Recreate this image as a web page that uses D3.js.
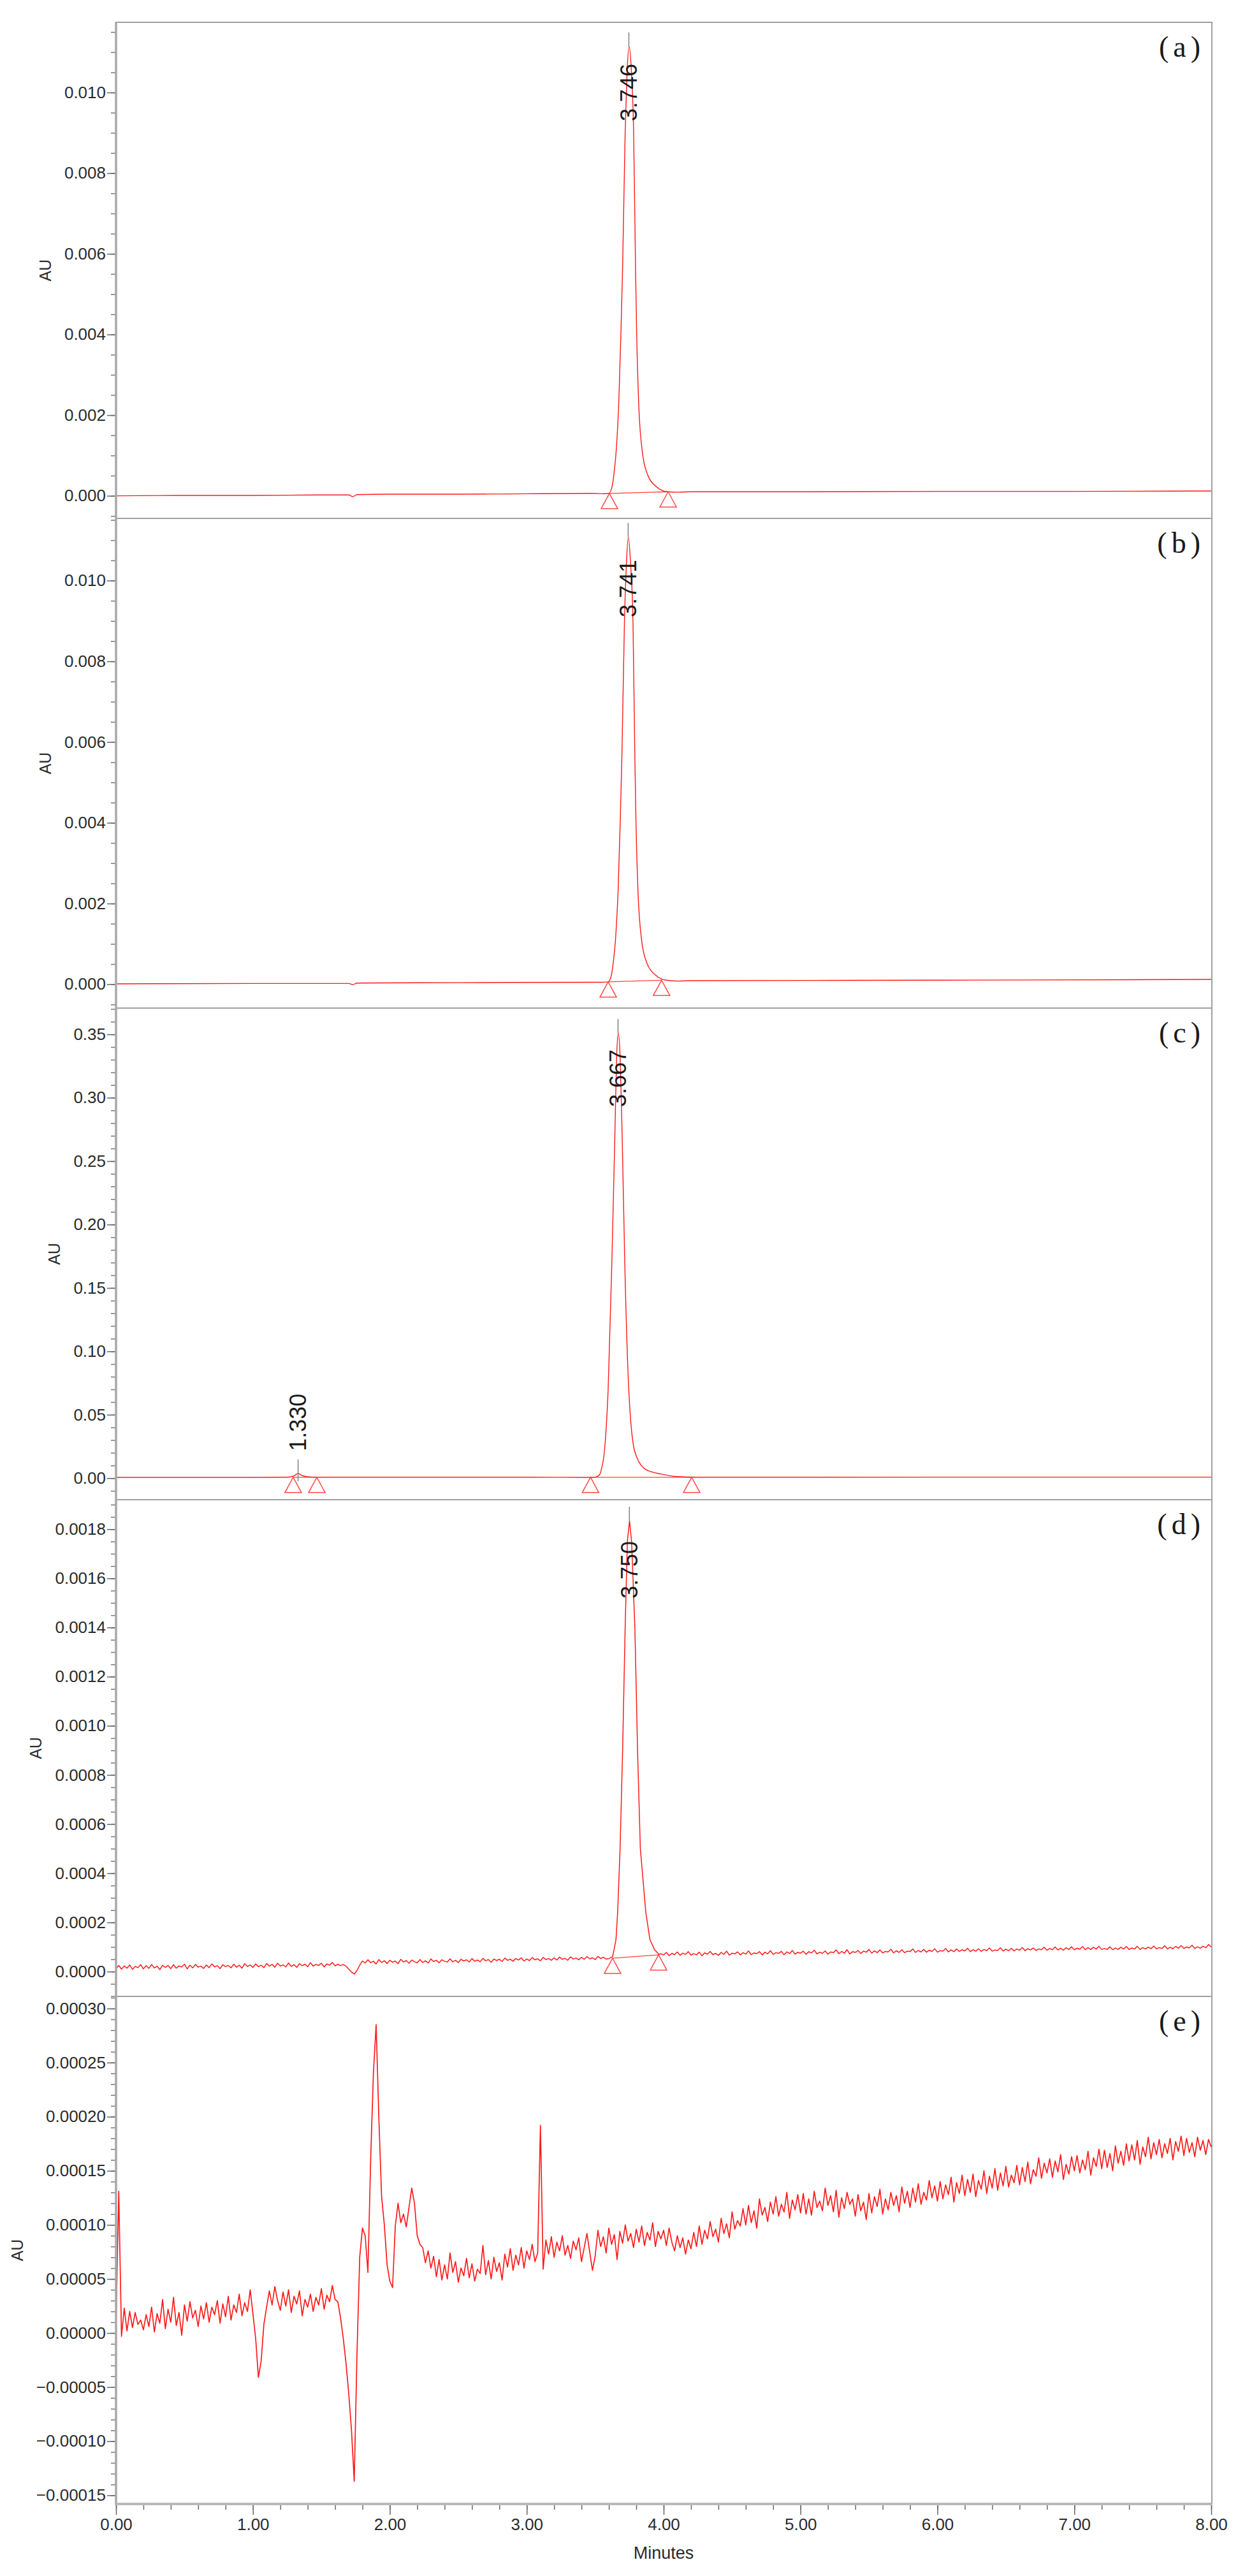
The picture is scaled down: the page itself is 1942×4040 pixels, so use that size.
<!DOCTYPE html>
<html>
<head>
<meta charset="utf-8">
<script src="https://cdn.jsdelivr.net/npm/d3@7"></script>
<style>
  body { margin: 0; background: #fff; }
  svg { display: block; background: #fff; }
  text { font-family: "Liberation Sans", Arial, sans-serif; }
</style>
</head>
<body>
<svg id="chart" width="1942" height="4040"></svg>
<script>
// ---- x axis (minutes)
const xTicks = [0, 1, 2, 3, 4, 5, 6, 7, 8];
const xMinorStep = 0.2;

// ---- y tick labels per panel
const abTicks = [0, 0.002, 0.004, 0.006, 0.008, 0.010];
const cTicks = [0, 0.05, 0.10, 0.15, 0.20, 0.25, 0.30, 0.35];
const dTicks = [0, 0.0002, 0.0004, 0.0006, 0.0008, 0.0010, 0.0012, 0.0014, 0.0016, 0.0018];
const eTicks = [-0.00015, -0.00010, -0.00005, 0, 0.00005, 0.00010, 0.00015, 0.00020, 0.00025, 0.00030];

// ---- (a): [minutes, AU]
const aBase = [[0, 0.00000], [0.5, 0.00001], [1.0, 0.00001], [1.5, 0.00002], [1.70, 0.00002], [1.73, -0.00002],
  [1.76, 0.00003], [2.0, 0.00004], [2.5, 0.00004], [3.0, 0.00005], [3.5, 0.00006], [4.2, 0.00010],
  [5.0, 0.00010], [6.0, 0.00011], [7.0, 0.00011], [8.0, 0.00012]];
const aPeak = [[3.55, 0.00005], [3.60, 0.00006], [3.623, 0.00022], [3.638, 0.00056], [3.654, 0.00113],
  [3.673, 0.00237], [3.688, 0.00403], [3.700, 0.0056], [3.719, 0.0090], [3.733, 0.0105], [3.748, 0.01114],
  [3.765, 0.0105], [3.781, 0.0090], [3.795, 0.0056], [3.803, 0.00403], [3.817, 0.00237], [3.843, 0.00113],
  [3.879, 0.00056], [3.949, 0.00022], [4.03, 0.00010], [4.10, 0.00009]];
const aMarks = [[3.604, 0.00006], [4.033, 0.00010]];
const aPeaks = [{rt: 3.746, v: 0.01114, label: '3.746', top: true}];

// ---- (b)
const bBase = [[0, 0.00001], [1.0, 0.00002], [1.70, 0.00002], [1.73, -0.00001], [1.76, 0.00003], [2.5, 0.00004],
  [3.5, 0.00005], [4.2, 0.00009], [6.0, 0.00010], [8.0, 0.00012]];
const bPeak = [[3.55, 0.00005], [3.595, 0.00006], [3.618, 0.00022], [3.633, 0.00056], [3.649, 0.00113],
  [3.668, 0.00237], [3.683, 0.00403], [3.695, 0.0056], [3.714, 0.0090], [3.728, 0.0104], [3.742, 0.01108],
  [3.759, 0.0104], [3.776, 0.0090], [3.790, 0.0056], [3.798, 0.00403], [3.812, 0.00237], [3.838, 0.00113],
  [3.874, 0.00056], [3.944, 0.00022], [4.02, 0.00010], [4.10, 0.00008]];
const bMarks = [[3.595, 0.00006], [3.985, 0.00010]];
const bPeaks = [{rt: 3.741, v: 0.01108, label: '3.741', top: true}];

// ---- (c)
const cBase = [[0, 0.0006], [1.0, 0.0006], [2.0, 0.0007], [3.0, 0.0007], [4.3, 0.0007], [6.0, 0.0008], [8.0, 0.0008]];
const cSmall = [[1.25, 0.0007], [1.30, 0.0018], [1.33, 0.0037], [1.36, 0.0020], [1.42, 0.0009], [1.50, 0.0007]];
const cPeak = [[3.45, 0.0006], [3.50, 0.0008], [3.534, 0.0030], [3.545, 0.0069], [3.567, 0.0207], [3.595, 0.0708],
  [3.622, 0.1709], [3.644, 0.2705], [3.657, 0.333], [3.669, 0.351], [3.682, 0.333], [3.697, 0.2705],
  [3.716, 0.1709], [3.745, 0.0708], [3.790, 0.0207], [3.868, 0.0069], [3.979, 0.0033], [4.10, 0.0012], [4.25, 0.0007]];
const cMarks = [[1.294, 0.0007], [1.467, 0.0007], [3.466, 0.0007], [4.205, 0.0007]];
const cPeaks = [{rt: 1.330, v: 0.0037, label: '1.330', top: false}, {rt: 3.667, v: 0.351, label: '3.667', top: true}];

// ---- (d) sampled every 0.02 min, values in 1e-5 AU
const dStep = 0.02;
const dValues = [
  1.2, 2.5, 1.0, 2.3, 1.4, 2.7, 0.9, 2.1, 1.6, 2.8, 1.1,
  2.4, 1.3, 2.9, 1.5, 2.2, 0.8, 2.6, 1.7, 2.5, 1.2,
  2.8, 1.4, 2.3, 1.9, 3.0, 1.1, 2.6, 1.5, 2.9, 1.8,
  2.2, 1.3, 2.7, 1.6, 3.1, 1.9, 2.4, 1.2, 2.8, 2.0,
  2.5, 1.5, 3.0, 1.8, 2.6, 1.4, 3.2, 2.1, 2.7, 1.7,
  3.1, 2.0, 2.6, 1.6, 3.3, 2.2, 2.9, 1.8, 3.4, 2.3,
  2.7, 1.9, 3.5, 2.1, 2.8, 1.7, 3.2, 2.4, 3.0, 2.0,
  3.6, 2.2, 2.9, 2.5, 3.4, 1.9, 3.1, 2.6, 3.7, 2.3,
  3.0, 2.4, 2.9, 2.2, 1.0, -0.2, -1.0, 0.4, 2.6, 4.3,
  3.5, 4.8, 3.6, 4.2, 3.1, 4.9, 3.7, 4.4, 3.3, 4.6,
  3.8, 4.3, 3.2, 5.0, 3.9, 4.5, 3.4, 4.7, 4.0, 3.6,
  4.9, 3.7, 4.4, 3.5, 5.1, 4.1, 4.6, 3.6, 4.8, 4.2,
  3.9, 5.2, 4.0, 4.6, 3.7, 5.0, 4.3, 4.8, 3.9, 5.3,
  4.2, 4.7, 4.0, 5.4, 4.4, 4.9, 3.8, 5.1, 4.5, 5.0,
  4.1, 5.5, 4.6, 5.0, 4.2, 5.3, 4.7, 5.6, 4.3, 5.1,
  4.5, 5.7, 4.8, 5.2, 4.4, 5.8, 4.9, 5.3, 4.6, 5.6,
  4.7, 5.9, 5.0, 5.4, 4.6, 6.0, 5.1, 5.5, 4.8, 5.8,
  5.0, 6.1, 5.2, 5.6, 4.9, 6.2, 5.3, 5.8, 5.1, 5.5,
  5.4, 5.6, 5.5, 5.7, 5.8, 5.9, 6.0, 6.1, 6.2, 6.3,
  6.4, 6.5, 6.6, 6.7, 6.8, 6.9, 7.0, 7.1, 7.9, 6.8,
  7.8, 6.5, 7.4, 6.9, 8.0, 6.6, 7.5, 7.0, 8.1, 6.7,
  7.3, 6.8, 7.9, 6.4, 7.6, 7.1, 8.2, 6.9, 7.4, 6.6,
  7.8, 7.0, 8.3, 6.7, 7.5, 7.2, 8.0, 6.8, 7.7, 7.1,
  8.4, 6.9, 7.6, 7.3, 8.1, 6.8, 7.9, 7.2, 8.5, 7.0,
  7.7, 7.4, 8.2, 6.9, 8.0, 7.3, 8.6, 7.1, 7.8, 7.5,
  8.3, 7.0, 8.1, 7.6, 8.7, 7.2, 7.9, 7.4, 8.4, 7.1,
  8.0, 7.7, 8.8, 7.3, 8.2, 7.5, 8.9, 7.2, 8.1, 7.8,
  8.6, 7.4, 8.3, 7.9, 9.0, 7.5, 8.4, 7.7, 8.8, 7.6,
  8.2, 8.0, 9.1, 7.6, 8.5, 7.8, 8.9, 7.7, 8.3, 8.1,
  9.2, 7.8, 8.6, 8.0, 9.0, 7.9, 8.7, 8.2, 9.3, 7.9,
  8.5, 8.3, 9.4, 8.0, 8.8, 8.1, 9.2, 8.2, 8.9, 8.4,
  9.5, 8.1, 8.9, 8.3, 9.3, 8.2, 9.0, 8.5, 9.6, 8.3,
  8.8, 8.6, 9.7, 8.4, 9.1, 8.5, 9.5, 8.4, 9.2, 8.7,
  9.8, 8.5, 9.3, 8.8, 9.6, 8.6, 9.2, 8.9, 9.9, 8.7,
  9.4, 8.9, 10.0, 8.8, 9.5, 8.7, 9.7, 9.0, 10.1, 8.9,
  9.5, 9.1, 10.2, 8.9, 9.7, 9.0, 9.9, 9.2, 10.3, 9.0,
  9.4, 9.0, 10.1, 8.9, 9.6, 9.0, 9.9, 9.2, 10.2, 9.0,
  9.6, 9.2, 10.3, 9.0, 9.8, 9.2, 10.0, 9.3, 10.4, 9.2,
  9.8, 9.4, 10.5, 9.2, 9.9, 9.3, 10.2, 9.5, 10.6, 9.4,
  10.0, 9.6, 10.7, 9.4, 10.1, 9.5, 10.3, 9.7, 11.0, 10.0
];
const dPeak = [[3.60, 0.000053], [3.627, 0.000060], [3.640, 0.000095], [3.652, 0.000130], [3.664, 0.00024],
  [3.682, 0.00050], [3.700, 0.00089], [3.719, 0.00140], [3.735, 0.00175], [3.751, 0.001834], [3.766, 0.00175],
  [3.790, 0.00140], [3.810, 0.00089], [3.830, 0.00050], [3.870, 0.00024], [3.900, 0.00013], [3.933, 0.00009],
  [3.965, 0.000070], [3.98, 0.000072]];
const dMarks = [[3.627, 0.0000545], [3.963, 0.000068]];
const dPeaks = [{rt: 3.750, v: 0.001834, label: '3.750', top: true}];

// ---- (e) sampled every 0.02 min, values in 1e-5 AU
const eStep = 0.02;
const eValues = [
  1.0, 13.1, -0.3, 2.3, 0.2, 2.0, 0.5, 1.9, 0.8, 1.2, 0.3,
  1.7, 0.6, 2.4, 0.1, 1.8, 0.9, 3.1, 0.4, 2.2, 1.0,
  3.3, 0.7, 1.9, -0.2, 2.6, 1.1, 2.9, 1.4, 2.1, 0.6,
  2.5, 1.3, 2.8, 1.0, 2.4, 1.7, 3.0, 0.9, 2.7, 1.5,
  3.4, 1.2, 2.6, 1.9, 3.6, 1.6, 2.8, 2.0, 4.0, 1.8,
  -0.5, -4.1, -2.6, 0.8, 2.4, 3.9, 2.6, 4.3, 3.0, 2.1,
  3.8, 2.5, 4.0, 1.9, 3.4, 2.7, 3.9, 1.6, 3.1, 2.4,
  3.6, 2.0, 3.3, 2.6, 4.1, 2.2, 3.5, 2.9, 4.4, 3.1,
  2.9,
  1.4, -0.5, -2.8, -5.6, -9.0, -13.7, -2.0, 7.0, 9.7, 9.0,
  5.6, 16.0, 24.0, 28.5, 19.8, 12.6, 10.0, 6.3, 4.8, 4.2,
  9.9, 12.0, 10.2, 11.0, 9.8, 11.6, 13.4, 12.0, 9.0, 8.2,
  7.9, 6.5, 7.6, 6.0,
  7.1, 5.2, 6.8, 4.9, 6.3, 5.0, 7.4, 5.6, 6.6, 4.7,
  6.0, 5.3, 6.9, 5.1, 6.4, 4.8, 5.9, 5.5, 8.1, 5.4,
  6.7, 5.0, 7.0, 5.7, 6.5, 4.9, 7.3, 6.1, 7.8, 5.8,
  7.2, 6.3, 7.9, 6.0, 7.6, 6.8, 8.2, 6.6, 7.4,
  19.2, 5.9,
  8.6, 7.3, 8.9, 7.0, 8.4, 7.6, 9.0, 7.2, 8.1, 6.9,
  8.5, 7.7, 8.8, 6.6, 7.9, 9.2, 7.5, 5.8, 7.1, 9.5,
  8.0, 8.9, 7.4, 9.7, 8.2, 9.1, 6.8, 9.4, 8.3, 10.0,
  8.5, 9.2, 7.9, 9.6, 8.4, 9.9, 8.1, 9.3, 8.6, 10.2,
  8.0, 9.4, 8.7, 9.5,
  8.1, 9.7, 8.4, 7.6, 9.0, 7.9, 8.8, 7.3, 8.6, 7.8,
  9.3, 8.0, 9.9, 8.2, 9.5, 8.7, 10.3, 8.9, 9.6, 8.4,
  10.6, 9.2, 10.1, 8.8, 11.2, 9.6, 10.4, 9.9, 11.5, 10.0,
  11.8, 10.2, 11.3, 9.7, 12.4, 10.9, 11.6, 10.3, 12.1, 11.0,
  12.6, 10.8, 11.9, 11.2, 13.0, 10.6, 12.3, 11.4, 12.8, 11.1,
  12.9, 11.0, 12.4, 10.9, 13.1, 11.6, 12.2, 11.3, 13.4, 11.8,
  12.7, 11.2, 13.2, 10.7, 12.5, 11.5, 13.0, 11.9, 12.4, 10.8,
  12.8, 11.3, 12.1, 10.5, 12.9, 11.1, 12.6, 11.7, 13.3, 11.0,
  12.4, 11.4, 13.0, 11.8, 12.7, 11.2, 13.5, 12.0, 13.1, 11.6,
  13.4, 12.1, 13.8, 11.9, 13.0, 12.3, 14.1, 12.5, 13.6, 12.2,
  14.0, 12.4, 13.7, 12.8, 14.4, 12.1, 13.9, 12.9, 14.6, 12.7,
  14.2, 13.0, 14.7, 12.6, 14.1, 13.3, 15.0, 12.9, 14.5, 13.4,
  15.2, 13.2, 14.8, 13.6, 15.4, 13.5, 14.6, 13.9, 15.5, 13.7,
  15.3, 14.0, 15.8, 13.8, 15.1, 14.5, 16.2, 14.3, 15.7, 14.8,
  16.1, 14.4, 15.9, 14.9, 16.5, 14.2, 15.6, 14.7, 16.3, 15.0,
  16.4, 14.8, 16.0, 15.1, 16.8, 14.6, 16.2, 15.4, 17.0, 15.2,
  16.9, 15.3, 16.6, 15.0, 17.3, 15.7, 16.8, 15.5, 17.5, 15.9,
  17.4, 16.0, 17.8, 15.6, 17.2, 16.3, 18.1, 16.1, 17.6, 16.5,
  17.9, 16.2, 17.5, 16.6, 18.0, 16.0, 17.7, 16.8, 18.2, 16.4,
  18.0, 16.7, 17.6, 16.3, 18.1, 16.9, 17.8, 16.5, 17.9, 17.2
];

console.log('d count', dValues.length, 'e count', eValues.length);

function sampled(values, step) {
  return values.map((v, i) => [i * step, v * 1e-5]);
}
function merge(base, peak) {
  const t0 = peak[0][0], t1 = peak[peak.length - 1][0];
  return base.filter(p => p[0] < t0 || p[0] > t1).concat(peak).sort((p, q) => p[0] - q[0]);
}

const svg = d3.select('#chart');
const X0 = 182, X1 = 1900, XR = 1901, XBOT = 3927;
const x = d3.scaleLinear().domain([0, 8]).range([X0, X1]);

const panels = [
  {letter: '(a)', top: 35, bottom: 813, domain: [-0.00056, 0.01174], ticks: abTicks, minor: 0.0005, fmt: '.3f',
    data: merge(aBase, aPeak), marks: aMarks, peaks: aPeaks, curve: d3.curveMonotoneX, width: 1.4},
  {letter: '(b)', top: 813, bottom: 1581, domain: [-0.00059, 0.01154], ticks: abTicks, minor: 0.0005, fmt: '.3f',
    data: merge(bBase, bPeak), marks: bMarks, peaks: bPeaks, curve: d3.curveMonotoneX, width: 1.4},
  {letter: '(c)', top: 1581, bottom: 2352, domain: [-0.017, 0.3707], ticks: cTicks, minor: 0.01, fmt: '.2f',
    data: merge(merge(cBase, cSmall), cPeak), marks: cMarks, peaks: cPeaks, curve: d3.curveMonotoneX, width: 1.4},
  {letter: '(d)', top: 2352, bottom: 3131, domain: [-0.000101, 0.00192], ticks: dTicks, minor: 0.00005, fmt: '.4f',
    data: merge(sampled(dValues, dStep), dPeak), marks: dMarks, peaks: dPeaks, curve: d3.curveLinear, width: 1.5},
  {letter: '(e)', top: 3131, bottom: XBOT, domain: [-0.000158, 0.0003112], ticks: eTicks, minor: 0.00001, fmt: '.5f',
    data: sampled(eValues, eStep), marks: [], peaks: [], curve: d3.curveLinear, width: 1.7}
];

panels.forEach((p, i) => {
  const y = d3.scaleLinear().domain(p.domain).range([p.bottom, p.top]);
  const g = svg.append('g');

  // frame
  g.append('rect')
    .attr('x', X0).attr('y', p.top)
    .attr('width', XR - X0).attr('height', p.bottom - p.top)
    .attr('fill', 'none').attr('stroke', '#a0a0a0').attr('stroke-width', 2);

  // clip for the trace
  svg.append('clipPath').attr('id', 'clip' + i)
    .append('rect').attr('x', X0).attr('y', p.top).attr('width', XR - X0).attr('height', p.bottom - p.top);

  // minor ticks
  const k0 = Math.ceil(p.domain[0] / p.minor - 1e-6), k1 = Math.floor(p.domain[1] / p.minor + 1e-6);
  const minorVals = d3.range(k0, k1 + 1).map(k => k * p.minor);
  const minorAxis = g.append('g')
    .attr('transform', 'translate(' + X0 + ',0)')
    .call(d3.axisLeft(y).tickValues(minorVals).tickSize(8).tickFormat(''));
  minorAxis.select('.domain').remove();
  minorAxis.selectAll('line').attr('stroke', '#777').attr('stroke-width', 1.5);

  // major ticks
  const axis = g.append('g')
    .attr('transform', 'translate(' + X0 + ',0)')
    .call(d3.axisLeft(y).tickValues(p.ticks).tickSize(14).tickPadding(2).tickFormat(d3.format(p.fmt)));
  axis.select('.domain').remove();
  axis.selectAll('line').attr('stroke', '#666').attr('stroke-width', 1.5);
  axis.selectAll('text')
    .style('font-family', '"Liberation Sans", Arial, sans-serif')
    .style('font-size', '26px')
    .attr('fill', '#2b2b2b');

  // AU label, left of the tick labels
  const bb = axis.node().getBBox();
  g.append('text')
    .attr('transform', 'translate(' + (X0 + bb.x - 30) + ',' + ((p.top + p.bottom) / 2) + ')rotate(-90)')
    .attr('text-anchor', 'middle')
    .attr('dy', '0.35em')
    .style('font-size', '25px')
    .attr('fill', '#2b2b2b')
    .text('AU');

  // integration baselines between marks
  for (let m = 0; m + 1 < p.marks.length; m += 2) {
    g.append('line')
      .attr('x1', x(p.marks[m][0])).attr('y1', y(p.marks[m][1]))
      .attr('x2', x(p.marks[m + 1][0])).attr('y2', y(p.marks[m + 1][1]))
      .attr('stroke', '#ff4040').attr('stroke-width', 1.3);
  }

  // trace
  const line = d3.line().x(d => x(d[0])).y(d => y(d[1])).curve(p.curve);
  g.append('path')
    .datum(p.data)
    .attr('clip-path', 'url(#clip' + i + ')')
    .attr('d', line)
    .attr('fill', 'none')
    .attr('stroke', '#ff1a1a')
    .attr('stroke-width', p.width)
    .attr('stroke-linejoin', 'round');

  // start / end markers
  g.selectAll('.mark')
    .data(p.marks)
    .enter()
    .append('path')
    .attr('d', d => 'M' + x(d[0]) + ',' + y(d[1]) + 'l-13,24h26z')
    .attr('fill', 'none')
    .attr('stroke', '#ff4a4a')
    .attr('stroke-width', 1.5);

  // peak markers and retention time labels
  p.peaks.forEach(pk => {
    const px = x(pk.rt), py = y(pk.v);
    g.append('line')
      .attr('x1', px).attr('x2', px)
      .attr('y1', py - 22).attr('y2', pk.top ? py : py + 12)
      .attr('stroke', '#808080').attr('stroke-width', 1.5);
    const ly = pk.top ? p.top + 65 : py - 35;
    g.append('text')
      .attr('transform', 'translate(' + px + ',' + ly + ')rotate(-90)')
      .attr('text-anchor', pk.top ? 'end' : 'start')
      .attr('dy', '0.35em')
      .style('font-size', '36px')
      .attr('fill', '#1a1a1a')
      .text(pk.label);
  });

  // panel letter
  g.append('text')
    .attr('x', 1890).attr('y', p.top + 54)
    .attr('text-anchor', 'end')
    .style('font-family', '"Liberation Serif", "Times New Roman", serif')
    .style('font-size', '46px')
    .style('letter-spacing', '7px')
    .attr('fill', '#1a1a1a')
    .text(p.letter);
});

// left axis band
svg.append('line')
  .attr('x1', X0).attr('x2', X0).attr('y1', 35).attr('y2', XBOT + 2)
  .attr('stroke', '#a8a8a8').attr('stroke-width', 3.5);

// x axis
const xMinor = d3.range(0, 41).map(k => k * xMinorStep);
const xMinorAxis = svg.append('g')
  .attr('transform', 'translate(0,' + (XBOT + 2) + ')')
  .call(d3.axisBottom(x).tickValues(xMinor).tickSize(7).tickFormat(''));
xMinorAxis.select('.domain').remove();
xMinorAxis.selectAll('line').attr('stroke', '#666').attr('stroke-width', 1.5);

const xAxis = svg.append('g')
  .attr('transform', 'translate(0,' + (XBOT + 2) + ')')
  .call(d3.axisBottom(x).tickValues(xTicks).tickSize(15).tickPadding(6).tickFormat(d3.format('.2f')));
xAxis.select('.domain').remove();
xAxis.selectAll('line').attr('stroke', '#666').attr('stroke-width', 1.5);
xAxis.selectAll('text')
  .style('font-family', '"Liberation Sans", Arial, sans-serif')
  .style('font-size', '26px')
  .attr('fill', '#2b2b2b');

svg.append('line')
  .attr('x1', X0).attr('x2', XR).attr('y1', XBOT).attr('y2', XBOT)
  .attr('stroke', '#b8b8b8').attr('stroke-width', 4);

svg.append('text')
  .attr('x', x(4)).attr('y', 4013)
  .attr('text-anchor', 'middle')
  .style('font-size', '27px')
  .attr('fill', '#2b2b2b')
  .text('Minutes');
</script>
</body>
</html>
